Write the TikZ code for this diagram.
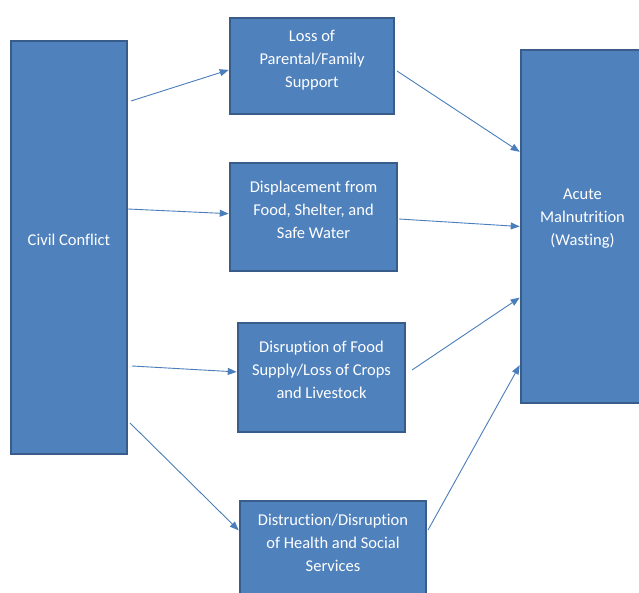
\documentclass[tikz,border=0pt]{standalone}
\usepackage{fontspec}
\setmainfont[Ligatures=NoCommon]{Carlito}
\usetikzlibrary{arrows.meta,calc}
\definecolor{boxfill}{HTML}{4F81BD}
\definecolor{boxline}{HTML}{385D8A}
\definecolor{arrowcol}{HTML}{4A7EBB}
\tikzset{
  box/.style={draw=boxline, line width=2.6pt, fill=boxfill, inner sep=0pt},
  txt/.style={text=white, align=center, inner sep=0pt, font=\fontsize{16.5}{23}\selectfont},
  conn/.style={draw=arrowcol, line width=0.9pt, -{Triangle[length=9pt,width=7pt]}}
}
\begin{document}
\begin{tikzpicture}[x=1pt,y=-1pt]
\clip (0,0) rectangle (639,593);
\fill[white] (0,0) rectangle (639,593);
% boxes
\node[box, minimum width=116pt, minimum height=413pt] (civ) at (69,247.5) {};
\node[box, minimum width=164pt, minimum height=96pt] (b1) at (312,66) {};
\node[box, minimum width=167pt, minimum height=108pt] (b2) at (313.5,217) {};
\node[box, minimum width=167pt, minimum height=109pt] (b3) at (321.5,377.5) {};
\node[box, minimum width=186pt, minimum height=120pt] (b4) at (333,561) {};
\node[box, minimum width=123pt, minimum height=353pt] (am) at (582.5,226.5) {};
% texts
\node[txt] (tciv) at (69,240) {Civil Conflict};
\node[txt] (t1) at (312,60) {Loss of\\Parental/Family\\Support};
\node[txt] (t2) at (313.5,210) {Displacement from\\Food, Shelter, and\\Safe Water};
\node[txt] (t3) at (321.5,370) {Disruption of Food\\Supply/Loss of Crops\\and Livestock};
\node[txt] (t4) at (333,543) {Distruction/Disruption\\of Health and Social\\Services};
\node[txt] (tam) at (582.5,219) {Acute\\Malnutrition\\(Wasting)};
% free arrow starts
\coordinate (s1) at (131,101);
\coordinate (s2) at (397,71);
\coordinate (s3) at (128,209);
\coordinate (s4) at (399,219);
\coordinate (s5) at (132,366);
\coordinate (s6) at (412,370);
\coordinate (s7) at (130,423);
\coordinate (s8) at (428,530);
% connectors
\draw[conn] (s1) -- ($(b1.north west)!0.54!(b1.south west)$);
\draw[conn] (s2) -- ($(am.north west)!0.29!(am.south west)$);
\draw[conn] (s3) -- ($(b2.north west)!0.47!(b2.south west)$);
\draw[conn] (s4) -- ($(am.north west)!0.50!(am.south west)$);
\draw[conn] (s5) -- ($(b3.north west)!0.45!(b3.south west)$);
\draw[conn] (s6) -- ($(am.north west)!0.70!(am.south west)$);
\draw[conn] (s7) -- ($(b4.north west)!0.25!(b4.south west)$);
\draw[conn] (s8) -- ($(am.north west)!0.89!(am.south west)$);
\end{tikzpicture}
\end{document}
